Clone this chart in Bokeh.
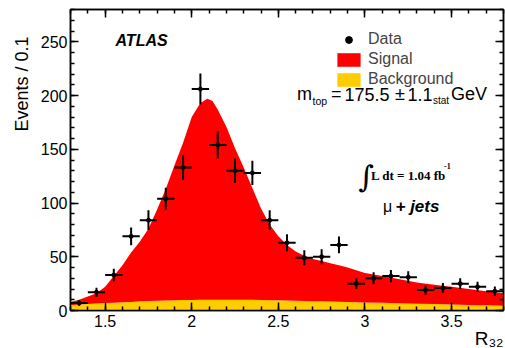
import math
from bokeh.plotting import figure
from bokeh.models import (Range1d, LinearAxis, FixedTicker, CustomJSTickFormatter,
                          Label, Legend, LegendItem, Title)
from bokeh.embed import file_html
from bokeh.resources import INLINE

# ---- data ----
data_x = [1.35, 1.45, 1.55, 1.65, 1.75, 1.85, 1.95, 2.05, 2.15, 2.25, 2.35, 2.45, 2.55,
          2.65, 2.75, 2.85, 2.95, 3.05, 3.15, 3.25, 3.35, 3.45, 3.55, 3.65, 3.75]
data_y = [7, 17, 33, 69, 84, 104, 133, 206, 154, 130, 128, 84, 63,
          49, 50, 61, 25, 30, 32, 31, 19, 21, 25, 22, 18]
bin_half = 0.05

curve_x = [1.30, 1.35, 1.40, 1.45, 1.50, 1.55, 1.60, 1.65, 1.70, 1.75, 1.80, 1.85, 1.90,
           1.95, 2.00, 2.05, 2.09, 2.12, 2.15, 2.20, 2.25, 2.30, 2.35, 2.40, 2.45, 2.50,
           2.55, 2.60, 2.65, 2.70, 2.75, 2.80, 2.85, 2.90, 3.00, 3.10, 3.20, 3.30, 3.40,
           3.50, 3.60, 3.70, 3.80]
total_y = [8, 10, 13, 16, 22, 32, 42, 54, 64, 76, 94, 113, 135,
           156, 180, 193, 197, 195, 187, 171, 151, 133, 114, 95, 80, 69,
           61, 55, 51, 48, 46, 44, 42, 40, 35, 32, 29, 26, 24,
           22, 20, 18, 16]
bg_y = [5, 5.5, 6, 6.5, 7, 7.3, 7.7, 8, 8.5, 8.8, 9, 9.3, 9.5,
        9.7, 9.8, 10, 10, 10, 10, 10, 10, 10, 9.9, 9.8, 9.6, 9.5,
        9.3, 9.1, 8.9, 8.7, 8.5, 8.3, 8.1, 8, 7.5, 7.2, 6.8, 6.3, 6,
        5.6, 5.2, 4.9, 4.5]

x_tick_values = [1.5, 2.0, 2.5, 3.0, 3.5]
x_tick_labels = ["1.5", "2", "2.5", "3", "3.5"]
x_minor = [round(1.3 + 0.1 * i, 2) for i in range(26)]
y_tick_values = [0, 50, 100, 150, 200, 250]
y_minor = list(range(0, 281, 10))

SANS = "Liberation Sans"
SERIF = "Liberation Serif"

W, H = 505, 348
BL, BR, BT, BB = 70, 2, 9, 38

p = figure(width=W, height=H, output_backend="svg", toolbar_location=None,
           x_range=Range1d(1.3, 3.8), y_range=Range1d(0, 280),
           min_border_left=BL, min_border_right=BR, min_border_top=BT, min_border_bottom=BB,
           x_axis_location=None, y_axis_location=None)
p.xgrid.visible = False
p.ygrid.visible = False
p.outline_line_color = "black"
p.outline_line_width = 1.5
p.background_fill_color = "white"
p.border_fill_color = "white"

fmt = CustomJSTickFormatter(args=dict(vals=x_tick_values, labels=x_tick_labels), code="""
const i = vals.findIndex(v => Math.abs(v - tick) < 1e-9);
return i >= 0 ? labels[i] : "";
""")
blank = CustomJSTickFormatter(code="return '';")

def style_axis(ax, show_labels):
    ax.axis_line_width = 1.5
    ax.major_tick_line_width = 1.5
    ax.minor_tick_line_width = 1.5
    ax.major_tick_in = 8
    ax.major_tick_out = 0
    ax.minor_tick_in = 4
    ax.minor_tick_out = 0
    ax.major_label_text_font = SANS
    ax.major_label_text_font_size = "16px"
    ax.major_label_text_color = "black"
    if not show_labels:
        ax.formatter = blank
        ax.major_label_text_font_size = "1px"
        ax.major_label_text_color = None
        ax.major_label_standoff = 0

xb = LinearAxis(ticker=FixedTicker(ticks=x_tick_values, minor_ticks=x_minor), formatter=fmt)
style_axis(xb, True)
xb.major_label_standoff = 4
xt = LinearAxis(ticker=FixedTicker(ticks=x_tick_values, minor_ticks=x_minor))
style_axis(xt, False)
yl = LinearAxis(ticker=FixedTicker(ticks=y_tick_values, minor_ticks=y_minor))
style_axis(yl, True)
yl.major_label_standoff = 3
yr = LinearAxis(ticker=FixedTicker(ticks=y_tick_values, minor_ticks=y_minor))
style_axis(yr, False)
p.add_layout(xb, "below")
p.add_layout(xt, "above")
p.add_layout(yl, "left")
p.add_layout(yr, "right")

# axis titles (as side-panel titles so that they can be end-aligned)
p.add_layout(Title(text="Events / 0.1", align="right", offset=27, standoff=11,
                   text_font=SANS, text_font_size="18px", text_font_style="normal",
                   text_color="black"), "left")
p.add_layout(Title(text="R\u2083\u2082", align="right", offset=0, standoff=-8,
                   text_font=SANS, text_font_size="19px", text_font_style="normal",
                   text_color="black"), "below")

# ---- filled areas ----
r_bg = p.varea(x=curve_x, y1=[0] * len(curve_x), y2=bg_y, fill_color="#ffcc00")
r_sig = p.varea(x=curve_x, y1=bg_y, y2=total_y, fill_color="#ff0000")

# ---- data with error bars ----
p.segment(x0=[x - bin_half for x in data_x], x1=[x + bin_half for x in data_x],
          y0=data_y, y1=data_y, line_color="black", line_width=2)
p.segment(x0=data_x, x1=data_x,
          y0=[y - math.sqrt(y) for y in data_y], y1=[y + math.sqrt(y) for y in data_y],
          line_color="black", line_width=2)
r_data = p.scatter(x=data_x, y=data_y, size=4, color="black")

legend = Legend(items=[LegendItem(label="Data", renderers=[r_data]),
                       LegendItem(label="Signal", renderers=[r_sig]),
                       LegendItem(label="Background", renderers=[r_bg])],
                location=(264, 222), padding=0, margin=0, spacing=2,
                glyph_width=29, glyph_height=17, label_standoff=5,
                label_text_font=SANS, label_text_font_size="16px",
                background_fill_alpha=0, border_line_alpha=0)
p.add_layout(legend)

# ---- texts, given in page pixel coordinates ----
FL = BL          # frame left on page
FB = H - BB      # frame bottom on page

def put(text, px, py, size, font=SANS, style="normal", align="left", angle=0):
    p.add_layout(Label(x=px - FL, y=FB - py, x_units="screen", y_units="screen",
                       text=text, text_font=font, text_font_size=f"{size}px",
                       text_font_style=style, text_align=align,
                       text_baseline="alphabetic", angle=angle, text_color="black"))

put("ATLAS", 115, 40, 16, style="bold italic")

put("m", 296.5, 93.5, 18)
put("top", 312, 100, 10.5)
put("=", 330.5, 93.5, 18)
put("175.5", 344, 93.5, 18)
put("\u00b1", 394.5, 93.5, 18)
put("1.1", 407, 93.5, 18)
put("stat", 432.5, 100, 10)
put("GeV", 450.5, 93.5, 18)

put("\u222b", 358, 175.5, 30, font="DejaVu Serif")
put("L dt = 1.04 fb", 370.5, 174.5, 13, font=SERIF, style="bold")
put("-1", 443.5, 165.5, 8, font=SERIF, style="bold")

put("\u03bc", 382.5, 206, 16)
put("+ jets", 395, 206, 17, style="bold italic")

open("out.html", "w").write(file_html(p, INLINE))
